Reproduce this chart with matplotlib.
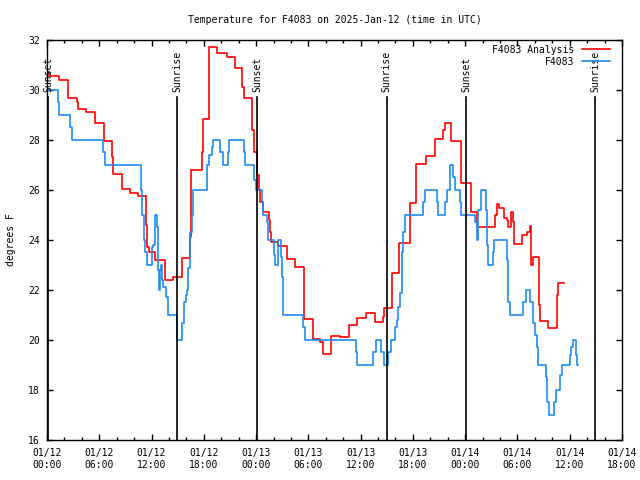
import pandas as pd
import matplotlib
matplotlib.use("Agg")
import matplotlib.pyplot as plt
import matplotlib.dates as mdates

plt.rcParams["font.family"] = "DejaVu Sans Mono"
plt.rcParams["font.size"] = 7

base = pd.Timestamp("2025-01-12 00:00")

# analysis series (hours after 01/12 00:00 UTC, degrees F)
ana_hours = [0.0, 0.23, 1.38, 2.44, 3.41, 3.59, 4.44, 5.51, 6.54, 7.43, 7.61, 8.57,
             9.53, 10.48, 11.38, 11.5, 11.71, 12.4, 13.5, 14.5, 15.46, 16.41, 16.5,
             17.76, 17.9, 17.96, 18.55, 19.48, 20.63, 21.58, 22.35, 22.65, 23.5,
             23.76, 24.1, 24.3, 24.5, 24.8, 25.45, 25.6, 25.7, 26.48, 27.5, 28.45,
             29.53, 30.57, 31.34, 31.72, 32.6, 33.63, 34.7, 35.62, 36.62, 37.65,
             38.53, 38.72, 39.57, 40.4, 41.67, 42.36, 43.45, 44.55, 45.45, 45.65,
             46.4, 47.55, 48.65, 49.4, 51.45, 51.6, 51.85, 52.5, 52.75, 52.95, 53.3,
             53.45, 53.6, 54.55, 55.15, 55.45, 55.6, 55.75, 56.5, 56.6, 57.55, 58.5,
             58.6, 59.38]
ana_temp = [30.7, 30.57, 30.4, 29.67, 29.53, 29.23, 29.1, 28.67, 27.97, 27.33, 26.63, 26.04,
            25.9, 25.77, 24.6, 23.7, 23.53, 23.2, 22.4, 22.5, 23.27, 24.1, 26.8,
            27.5, 28.3, 28.83, 31.7, 31.47, 31.33, 30.87, 30.1, 29.67, 28.4,
            27.5, 26.6, 26.0, 25.5, 25.1, 24.8, 24.3, 23.93, 23.76, 23.24, 22.93,
            20.83, 20.03, 19.93, 19.44, 20.17, 20.1, 20.6, 20.87, 21.09, 20.71,
            20.93, 21.27, 22.67, 23.87, 25.47, 27.04, 27.36, 28.03, 28.4, 28.69,
            27.96, 26.29, 25.13, 24.53, 25.0, 25.43, 25.27, 24.9, 24.8, 24.53, 25.13,
            24.7, 23.84, 24.2, 24.33, 24.56, 23.0, 23.3, 21.4, 20.76, 20.49, 21.8,
            22.27, 22.27]

# station observations
obs_hours = [0.0, 1.23, 1.38, 2.64, 2.83, 6.46, 6.66, 10.8, 10.95, 11.1, 11.3, 11.44,
             12.02, 12.2, 12.4, 12.59, 12.71, 12.78, 12.89, 12.97, 13.09, 13.17, 13.28,
             13.66, 13.85, 14.89, 14.96, 15.46, 15.58, 15.73, 15.95, 16.1, 16.22, 16.41,
             16.61, 16.79, 18.33, 18.6, 18.9, 19.09, 19.86, 20.17, 20.74, 20.93, 22.65,
             22.73, 23.79, 23.96, 24.64, 24.83, 25.22, 25.4, 26.09, 26.17, 26.48, 26.86,
             26.94, 27.12, 29.42, 29.61, 35.43, 35.62, 37.46, 37.73, 38.34, 38.72, 39.18,
             39.45, 39.94, 40.14, 40.33, 40.52, 40.71, 40.79, 40.9, 41.09, 43.19, 43.39,
             44.73, 44.92, 45.68, 45.88, 46.26, 46.64, 46.83, 47.41, 47.52, 49.13, 49.32,
             49.5, 49.82, 50.36, 50.47, 50.66, 51.16, 51.34, 52.77, 52.88, 52.95, 53.15,
             54.67, 54.95, 55.44, 55.64, 55.82, 56.01, 56.21, 56.32, 56.39, 57.24, 57.42,
             57.66, 58.2, 58.31, 58.43, 58.88, 59.0, 59.15, 60.03, 60.18, 60.41, 60.69,
             60.76, 60.84, 60.9]
obs_temp = [30, 29.5, 29, 28.5, 28, 27.5, 27, 26, 25, 24, 23.5, 23,
            23.7, 23.8, 25, 24.5, 23.5, 22.8, 22, 22.8, 23, 22.4, 22.1,
            21.7, 21, 20.3, 20, 20.7, 20.7, 21.5, 21.8, 22, 22.9, 24.3,
            25, 26, 27, 27.4, 27.7, 28, 27.5, 27, 27.5, 28, 27.5,
            27, 26.4, 26, 25.5, 25, 24.7, 24, 23.4, 23, 24, 23.3,
            22.5, 21, 20.5, 20, 19.5, 19, 19.5, 20, 19.5, 19, 19.5,
            20, 20.5, 20.8, 21.3, 21.9, 22.5, 23.5, 24.3, 25, 25.5, 26,
            25.5, 25, 25.5, 26, 27, 26.5, 26, 25.5, 25, 24.7, 24,
            25.2, 26, 25.2, 23.8, 23, 23.5, 24, 23.2, 22, 21.5, 21,
            21.5, 22, 21.5, 21.5, 20.7, 20.2, 19.7, 19.3, 19, 18.5, 17.5,
            17, 17.5, 17.5, 18, 18.6, 18.6, 19, 19.4, 19.7, 20, 19.7,
            19.4, 19, 19]

sunset_hours = [0.15, 24.14, 48.13]
sunrise_hours = [14.96, 38.99, 62.94]

ana_t = base + pd.to_timedelta(ana_hours, unit="h")
obs_t = base + pd.to_timedelta(obs_hours, unit="h")

fig = plt.figure(figsize=(6.4, 4.8), dpi=100)
ax = fig.add_axes([47 / 640, 40 / 480, 575 / 640, 400 / 480])

ax.plot(ana_t, ana_temp, drawstyle="steps-post", color="#ff0000", lw=1.2, label="F4083 Analysis")
ax.plot(obs_t, obs_temp, drawstyle="steps-post", color="#1e8cf0", lw=1.2, label="F4083")

for name, hrs in [("Sunset", sunset_hours), ("Sunrise", sunrise_hours)]:
    for h in hrs:
        t = base + pd.Timedelta(hours=h)
        ax.plot([t, t], [16, 29.7], color="black", lw=1.2)
        ax.text(t, 29.93, name, rotation=90, ha="center", va="bottom")

ax.set_xlim(base, base + pd.Timedelta(hours=66))
ax.set_ylim(16, 32)
ax.set_yticks(range(16, 33, 2))
ax.xaxis.set_major_locator(mdates.HourLocator(byhour=[0, 6, 12, 18]))
ax.xaxis.set_minor_locator(mdates.HourLocator(byhour=range(0, 24, 2)))
ax.xaxis.set_major_formatter(mdates.DateFormatter("%m/%d\n%H:%M"))
ax.tick_params(which="both", direction="in", top=True, right=True, width=1)
ax.tick_params(which="major", length=4, pad=5)
ax.tick_params(axis="x", which="major", pad=6)
ax.tick_params(which="minor", length=2.5)
for s in ax.spines.values():
    s.set_linewidth(1)

ax.set_ylabel("degrees F", labelpad=9)
ax.set_title("Temperature for F4083 on 2025-Jan-12 (time in UTC)", fontsize=7, pad=12)
ax.legend(loc="upper right", bbox_to_anchor=(0.986, 0.998), frameon=False,
          markerfirst=False, handlelength=2.9, handletextpad=0.8,
          borderaxespad=0, labelspacing=0.2)

fig.savefig("out.png", dpi=100)
